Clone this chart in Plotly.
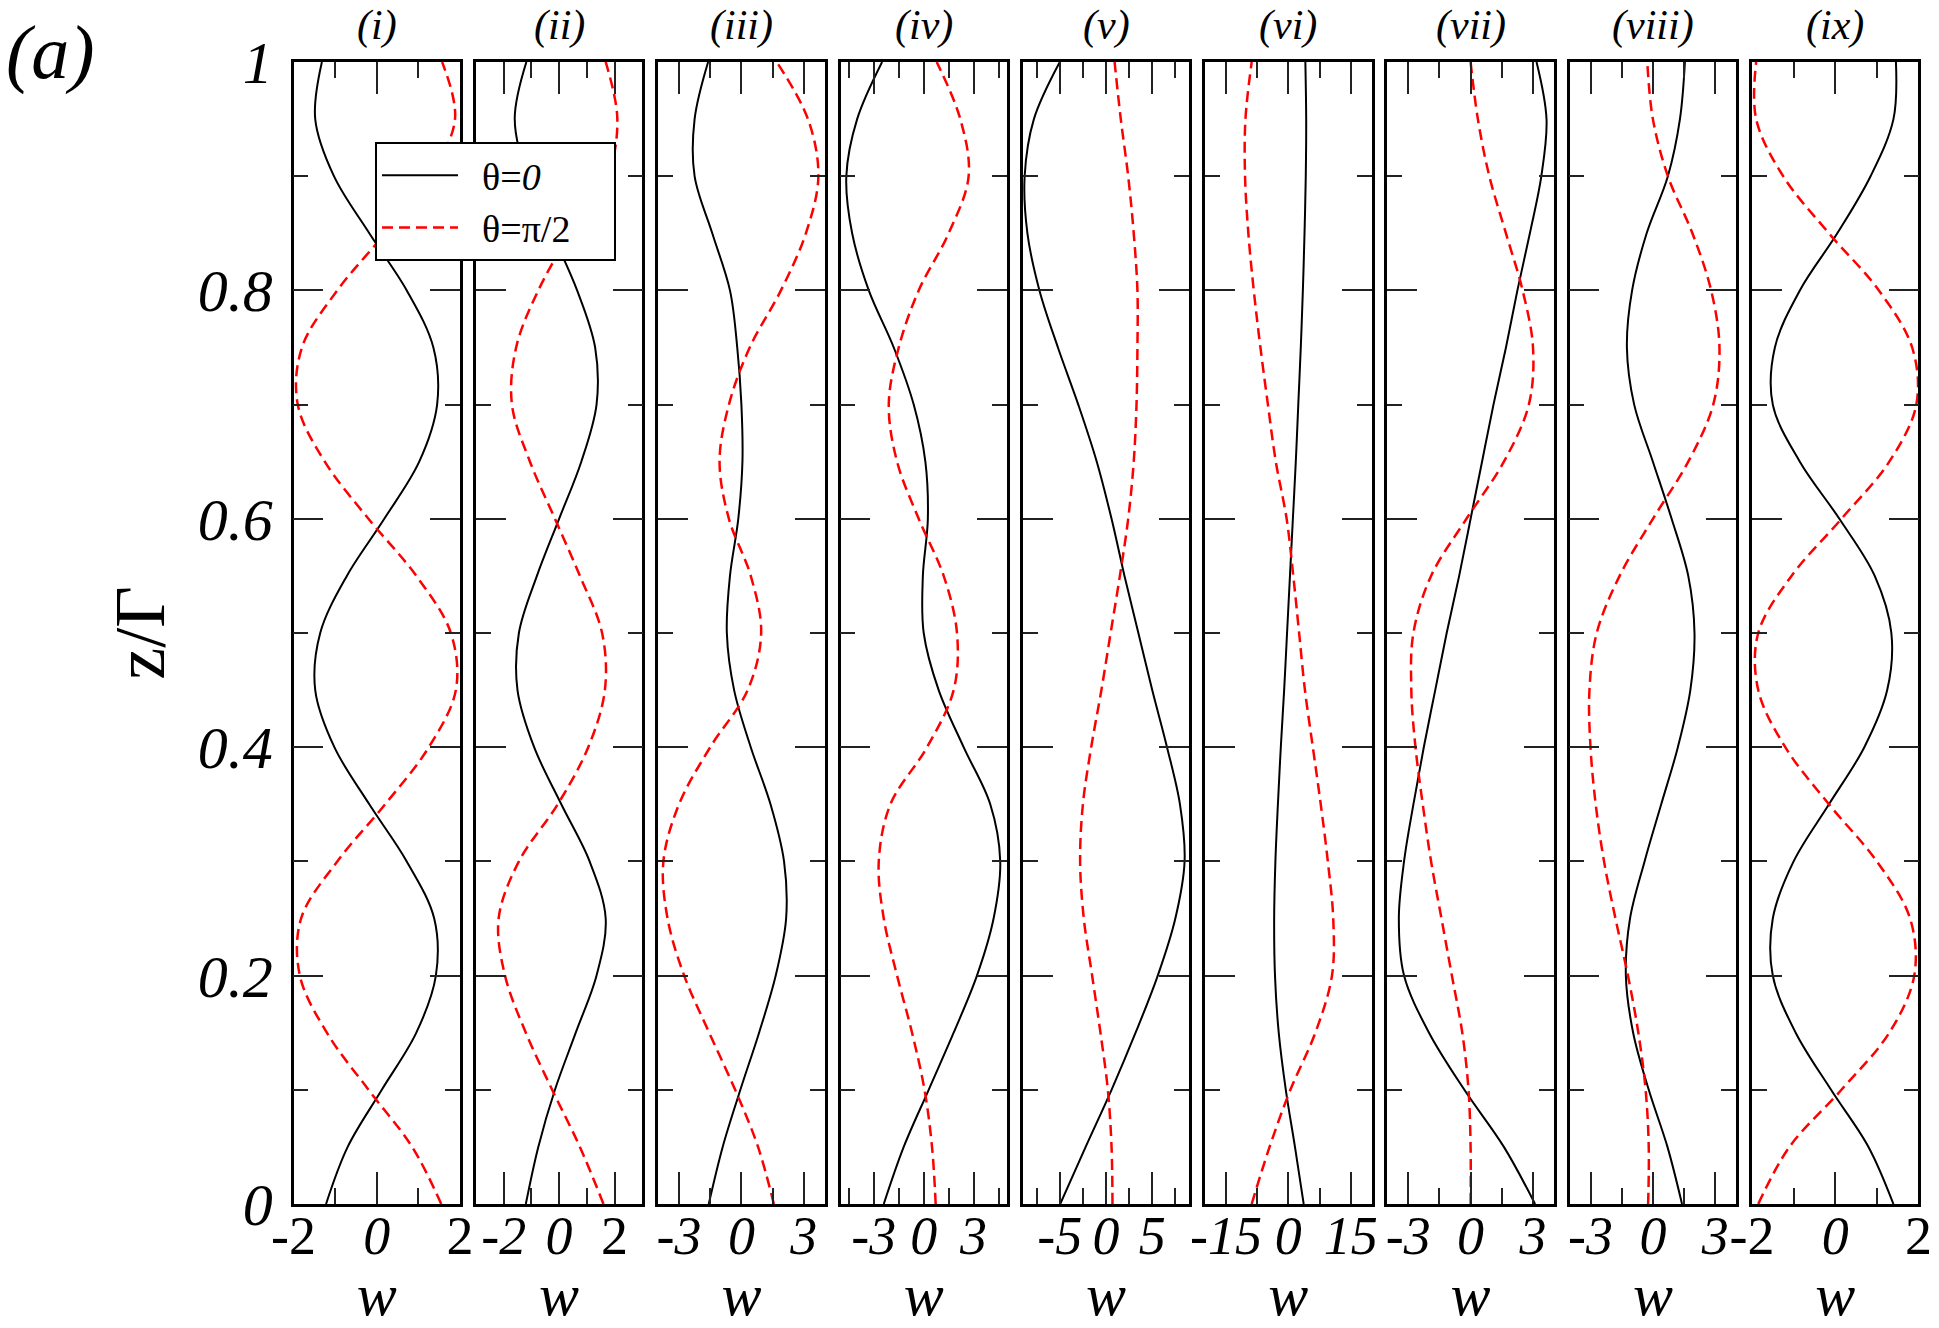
import plotly.graph_objects as go

# ---------------- data ----------------
z = [0.00, 0.05, 0.10, 0.15, 0.20, 0.25, 0.30, 0.35, 0.40, 0.45, 0.50,
     0.55, 0.60, 0.65, 0.70, 0.75, 0.80, 0.85, 0.90, 0.95, 1.00]

panel_titles = ["(i)", "(ii)", "(iii)", "(iv)", "(v)", "(vi)", "(vii)", "(viii)", "(ix)"]

w_theta0_i = [-1.22, -0.70, 0.12, 0.95, 1.42, 1.38, 0.72, -0.18, -1.02, -1.48, -1.36,
              -0.72, 0.18, 1.02, 1.45, 1.36, 0.72, -0.18, -1.03, -1.48, -1.32]
w_pi2_i = [1.55, 0.85, -0.20, -1.20, -1.85, -1.82, -0.95, 0.20, 1.25, 1.90, 1.78,
           0.95, -0.20, -1.25, -1.90, -1.80, -0.95, 0.20, 1.28, 1.88, 1.57]

w_theta0_ii = [-1.20, -0.75, -0.15, 0.60, 1.35, 1.68, 1.10, 0.08, -0.90, -1.50, -1.45,
               -0.80, 0.00, 0.80, 1.35, 1.30, 0.65, -0.25, -1.15, -1.60, -1.18]
w_pi2_ii = [1.60, 0.75, -0.25, -1.20, -1.95, -2.18, -1.45, -0.05, 1.05, 1.65, 1.55,
            0.75, -0.15, -1.05, -1.70, -1.55, -0.75, 0.40, 1.75, 2.10, 1.68]

w_theta0_iii = [-1.57, -0.90, -0.05, 0.85, 1.65, 2.15, 2.05, 1.40, 0.45, -0.35, -0.70,
                -0.55, -0.15, 0.05, 0.00, -0.20, -0.55, -1.40, -2.25, -2.25, -1.60]
w_pi2_iii = [1.56, 0.80, -0.30, -1.55, -2.75, -3.55, -3.75, -3.00, -1.50, 0.30, 0.95,
             0.45, -0.60, -1.05, -0.60, 0.40, 1.90, 3.10, 3.70, 3.20, 1.70]

w_theta0_iv = [-2.40, -1.20, 0.30, 1.80, 3.20, 4.20, 4.60, 4.00, 2.40, 0.90, 0.00,
               -0.05, 0.25, 0.10, -0.60, -1.80, -3.30, -4.30, -4.65, -4.00, -2.50]
w_pi2_iv = [0.72, 0.50, 0.05, -0.70, -1.60, -2.40, -2.70, -2.00, 0.20, 1.80, 2.00,
            1.20, -0.30, -1.60, -2.10, -1.50, -0.30, 1.50, 2.70, 2.20, 0.78]

w_theta0_v = [-4.95, -2.20, 0.60, 3.20, 5.60, 7.50, 8.50, 8.00, 6.60, 5.00, 3.50,
              2.00, 0.60, -1.00, -3.00, -5.20, -7.20, -8.50, -8.80, -7.80, -5.00]
w_pi2_v = [0.70, 0.60, 0.20, -0.60, -1.50, -2.40, -2.80, -2.50, -1.60, -0.50, 0.50,
           1.50, 2.40, 3.00, 3.30, 3.40, 3.40, 3.00, 2.40, 1.60, 0.93]

w_theta0_vi = [3.70, 1.60, -0.60, -2.30, -3.20, -3.40, -3.10, -2.50, -1.80, -1.00, -0.30,
               0.40, 1.10, 1.80, 2.40, 3.00, 3.50, 3.90, 4.20, 4.30, 4.10]
w_pi2_vi = [-8.80, -4.50, 0.50, 6.50, 10.50, 10.80, 9.50, 7.80, 5.90, 4.00, 2.60,
            1.20, -0.40, -3.00, -4.90, -6.70, -8.30, -9.60, -10.40, -10.30, -8.80]

w_theta0_vii = [3.10, 1.60, -0.30, -2.00, -3.20, -3.45, -3.20, -2.75, -2.25, -1.70, -1.15,
                -0.55, 0.00, 0.55, 1.10, 1.70, 2.25, 2.85, 3.40, 3.65, 3.17]
w_pi2_vii = [0.00, 0.00, -0.10, -0.40, -0.90, -1.40, -1.90, -2.30, -2.65, -2.85, -2.75,
             -1.90, -0.20, 1.60, 2.80, 3.00, 2.50, 1.70, 0.90, 0.35, 0.00]

w_theta0_viii = [1.40, 0.70, -0.20, -0.95, -1.30, -1.10, -0.40, 0.40, 1.20, 1.80, 2.00,
                 1.70, 0.90, 0.00, -0.90, -1.25, -1.00, -0.30, 0.72, 1.30, 1.54]
w_pi2_viii = [-0.23, -0.20, -0.35, -0.70, -1.20, -1.80, -2.35, -2.75, -3.00, -3.05, -2.70,
              -1.60, 0.00, 1.70, 2.90, 3.20, 2.80, 1.90, 0.72, 0.00, -0.27]

w_theta0_ix = [1.40, 0.80, -0.10, -0.95, -1.50, -1.50, -1.00, -0.15, 0.70, 1.25, 1.35,
               0.95, 0.10, -0.85, -1.50, -1.45, -0.85, 0.05, 0.85, 1.40, 1.46]
w_pi2_ix = [-1.85, -1.10, 0.15, 1.30, 1.90, 1.80, 1.00, -0.15, -1.20, -1.85, -1.85,
            -1.05, 0.15, 1.30, 1.95, 1.85, 1.05, -0.15, -1.25, -1.90, -1.90]

w_ranges = [[-2, 2], [-3, 3], [-4, 4], [-5, 5], [-9, 9], [-20, 20], [-4, 4], [-4, 4], [-2, 2]]
w_major_ticks = [[-2, 0, 2], [-2, 0, 2], [-3, 0, 3], [-3, 0, 3], [-5, 0, 5],
                 [-15, 0, 15], [-3, 0, 3], [-3, 0, 3], [-2, 0, 2]]
w_tick_text = [["-2", "<i>0</i>", "2"], ["<i>-2</i>", "<i>0</i>", "2"],
               ["<i>-3</i>", "<i>0</i>", "<i>3</i>"], ["<i>-3</i>", "<i>0</i>", "<i>3</i>"],
               ["<i>-5</i>", "<i>0</i>", "<i>5</i>"], ["<i>-15</i>", "<i>0</i>", "<i>15</i>"],
               ["<i>-3</i>", "<i>0</i>", "<i>3</i>"], ["<i>-3</i>", "<i>0</i>", "<i>3</i>"],
               ["-2", "<i>0</i>", "2"]]
w_minor_ticks = [[-1, 1], [-3, -1, 1, 3], [-1.5, 1.5], [-4.5, -1.5, 1.5, 4.5],
                 [-7.5, -2.5, 2.5, 7.5], [-7.5, 7.5], [-1.5, 1.5], [-1.5, 1.5], [-1, 1]]

z_major_ticks = [0, 0.2, 0.4, 0.6, 0.8, 1]
z_tick_text = ["<i>0</i>", "<i>0.2</i>", "<i>0.4</i>", "<i>0.6</i>", "<i>0.8</i>", "<i>1</i>"]
z_minor_ticks = [0.1, 0.3, 0.5, 0.7, 0.9]

theta0_series = [w_theta0_i, w_theta0_ii, w_theta0_iii, w_theta0_iv, w_theta0_v,
                 w_theta0_vi, w_theta0_vii, w_theta0_viii, w_theta0_ix]
pi2_series = [w_pi2_i, w_pi2_ii, w_pi2_iii, w_pi2_iv, w_pi2_v,
              w_pi2_vi, w_pi2_vii, w_pi2_viii, w_pi2_ix]

NB = "\u00a0"
legend_names = [NB * 2 + "θ=<i>0</i>", NB * 2 + "θ=π/2" + NB * 4]

# ---------------- layout geometry ----------------
W, H = 1939, 1328
FONT = "Liberation Serif"
panel_left0 = 293.6
panel_pitch = 182.3
panel_width = 166.4
plot_top = 62
plot_bottom = 1204

fig = go.Figure()
layout = dict(
    width=W, height=H,
    margin=dict(l=0, r=0, t=0, b=0),
    paper_bgcolor="white", plot_bgcolor="white",
    font=dict(family=FONT, color="black"),
    showlegend=True,
    legend=dict(x=375 / W, y=1 - 142 / H, xanchor="left", yanchor="top",
                bordercolor="black", borderwidth=2, bgcolor="white",
                font=dict(family=FONT, size=38, color="black"),
                itemwidth=76, tracegroupgap=0),
    annotations=[],
)

ydom = [1 - plot_bottom / H, 1 - plot_top / H]

for k in range(9):
    sfx = "" if k == 0 else str(k + 1)
    xa, ya = "x" + sfx, "y" + sfx
    left = panel_left0 + k * panel_pitch
    xdom = [left / W, (left + panel_width) / W]

    fig.add_trace(go.Scatter(
        x=theta0_series[k], y=z, xaxis=xa, yaxis=ya, mode="lines",
        line=dict(color="black", width=2, shape="spline", smoothing=1.0),
        name=legend_names[0], showlegend=(k == 0), legendrank=1))
    fig.add_trace(go.Scatter(
        x=pi2_series[k], y=z, xaxis=xa, yaxis=ya, mode="lines",
        line=dict(color="#ff0000", width=2.5, dash="11px,6px", shape="spline", smoothing=1.0),
        name=legend_names[1], showlegend=(k == 0), legendrank=2))

    layout["xaxis" + sfx] = dict(
        domain=xdom, anchor=ya, range=w_ranges[k], showgrid=False, zeroline=False,
        showline=True, linecolor="black", linewidth=2.5, mirror="allticks",
        ticks="inside", ticklen=32, tickwidth=2, tickcolor="#222",
        tickvals=w_major_ticks[k], ticktext=w_tick_text[k],
        tickfont=dict(family=FONT, size=54, color="black"),
        ticklabelstandoff=-18,
        minor=dict(tickvals=w_minor_ticks[k], ticks="inside", ticklen=16,
                   tickwidth=2, tickcolor="#222", showgrid=False),
        title=dict(text="<i>w</i>", font=dict(family=FONT, size=60, color="black"),
                   standoff=0),
        automargin=False,
    )
    layout["yaxis" + sfx] = dict(
        domain=ydom, anchor=xa, range=[0, 1], showgrid=False, zeroline=False,
        showline=True, linecolor="black", linewidth=2.5, mirror="allticks",
        ticks="inside", ticklen=30, tickwidth=2, tickcolor="#222",
        tickvals=z_major_ticks, ticktext=z_tick_text, showticklabels=(k == 0),
        tickfont=dict(family=FONT, size=60, color="black"),
        ticklabelstandoff=6,
        minor=dict(tickvals=z_minor_ticks, ticks="inside", ticklen=15,
                   tickwidth=2, tickcolor="#222", showgrid=False),
        automargin=False,
    )
    if k == 0:
        layout["yaxis"]["title"] = dict(text="z/Γ", font=dict(family=FONT, size=72, color="black"),
                                        standoff=10)

    layout["annotations"].append(dict(
        text="<i>" + panel_titles[k] + "</i>", xref="paper", yref="paper",
        x=(left + panel_width / 2) / W, y=1 - 25 / H, xanchor="center", yanchor="middle",
        showarrow=False, font=dict(family=FONT, size=42, color="black")))

layout["annotations"].append(dict(
    text="<i>(a)</i>", xref="paper", yref="paper", x=50 / W, y=1 - 52 / H,
    xanchor="center", yanchor="middle", showarrow=False,
    font=dict(family=FONT, size=76, color="black")))

fig.update_layout(**layout)
fig.write_html("out.html")
